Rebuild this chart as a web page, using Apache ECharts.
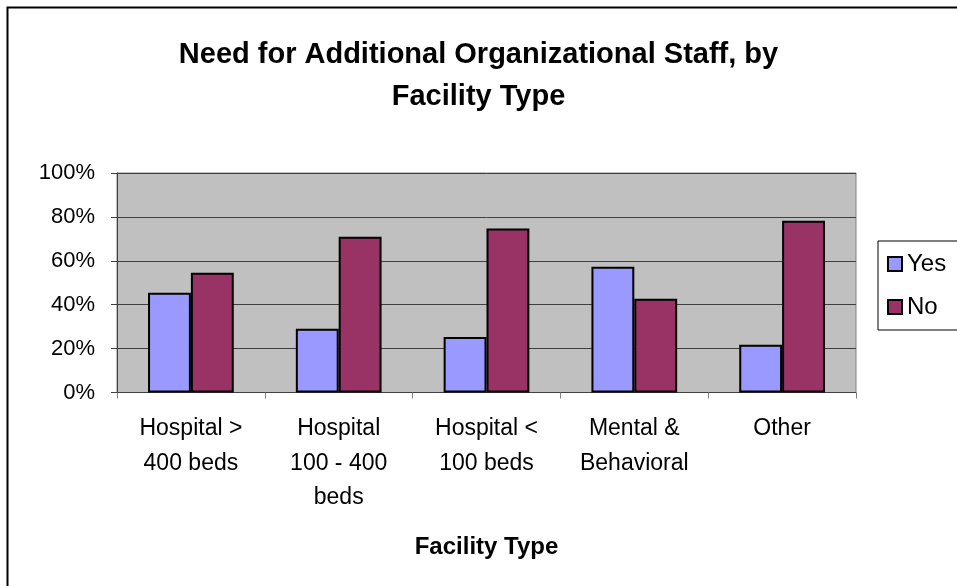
<!DOCTYPE html>
<html>
<head>
<meta charset="utf-8">
<script src="https://cdn.jsdelivr.net/npm/echarts@6/dist/echarts.min.js"></script>
<style>
  html, body { margin: 0; padding: 0; background: #fff; }
  #main { width: 957px; height: 586px; }
</style>
</head>
<body>
<div id="main"></div>
<script>
// facility types on the x axis
const categories = ['Hospital >\n400 beds', 'Hospital\n100 - 400\nbeds', 'Hospital <\n100 beds', 'Mental &\nBehavioral', 'Other'];
// share of respondents, percent
const yesValues = [45.5, 29, 25.3, 57.3, 21.7];
const noValues = [54.5, 71, 74.7, 42.7, 78.3];

const font = 'Liberation Sans, Arial, sans-serif';

const chart = echarts.init(document.getElementById('main'));
chart.setOption({
  backgroundColor: '#fff',
  animation: false,
  title: {
    text: 'Need for Additional Organizational Staff, by\nFacility Type',
    left: 'center',
    top: 29,
    textStyle: {
      fontFamily: font,
      fontSize: 29,
      fontWeight: 'bold',
      color: '#000',
      lineHeight: 42
    }
  },
  // chart frame (right and bottom edges run off the picture)
  graphic: [{
    type: 'rect',
    z: -10,
    shape: { x: 7.5, y: 7.5, width: 1000, height: 1000 },
    style: { fill: 'none', stroke: '#000', lineWidth: 2 }
  }],
  legend: {
    orient: 'vertical',
    left: 878,
    top: 241,
    padding: [11, 30, 11, 9],
    itemGap: 19,
    itemWidth: 14,
    itemHeight: 14,
    icon: 'rect',
    borderColor: '#000',
    borderWidth: 1,
    backgroundColor: '#fff',
    textStyle: { fontFamily: font, fontSize: 24, color: '#000' },
    data: ['Yes', 'No']
  },
  grid: {
    left: 117,
    right: 101,
    top: 173,
    bottom: 193.5,
    show: true,
    backgroundColor: '#C0C0C0',
    borderColor: '#808080',
    borderWidth: 1
  },
  xAxis: {
    type: 'category',
    data: categories,
    name: 'Facility Type',
    nameLocation: 'middle',
    nameGap: 143,
    nameTextStyle: { fontFamily: font, fontSize: 24, fontWeight: 'bold', color: '#000' },
    axisLine: { lineStyle: { color: '#404040', width: 1 } },
    axisTick: { show: true, length: 6, lineStyle: { color: '#808080' } },
    axisLabel: {
      fontFamily: font,
      fontSize: 23,
      color: '#000',
      margin: 19,
      lineHeight: 34.5,
      interval: 0
    }
  },
  yAxis: {
    type: 'value',
    min: 0,
    max: 100,
    interval: 20,
    axisLine: { show: true, lineStyle: { color: '#404040', width: 1 } },
    axisTick: { show: true, length: 6, lineStyle: { color: '#404040' } },
    axisLabel: {
      fontFamily: font,
      fontSize: 22,
      color: '#000',
      margin: 22,
      formatter: '{value}%'
    },
    splitLine: { lineStyle: { color: '#404040', width: 1 } }
  },
  series: [
    {
      name: 'Yes',
      type: 'bar',
      data: yesValues,
      barGap: '0%',
      barCategoryGap: '42%',
      itemStyle: { color: '#9999FF', borderColor: '#000', borderWidth: 2 }
    },
    {
      name: 'No',
      type: 'bar',
      data: noValues,
      itemStyle: { color: '#993366', borderColor: '#000', borderWidth: 2 }
    }
  ]
});
</script>
</body>
</html>
